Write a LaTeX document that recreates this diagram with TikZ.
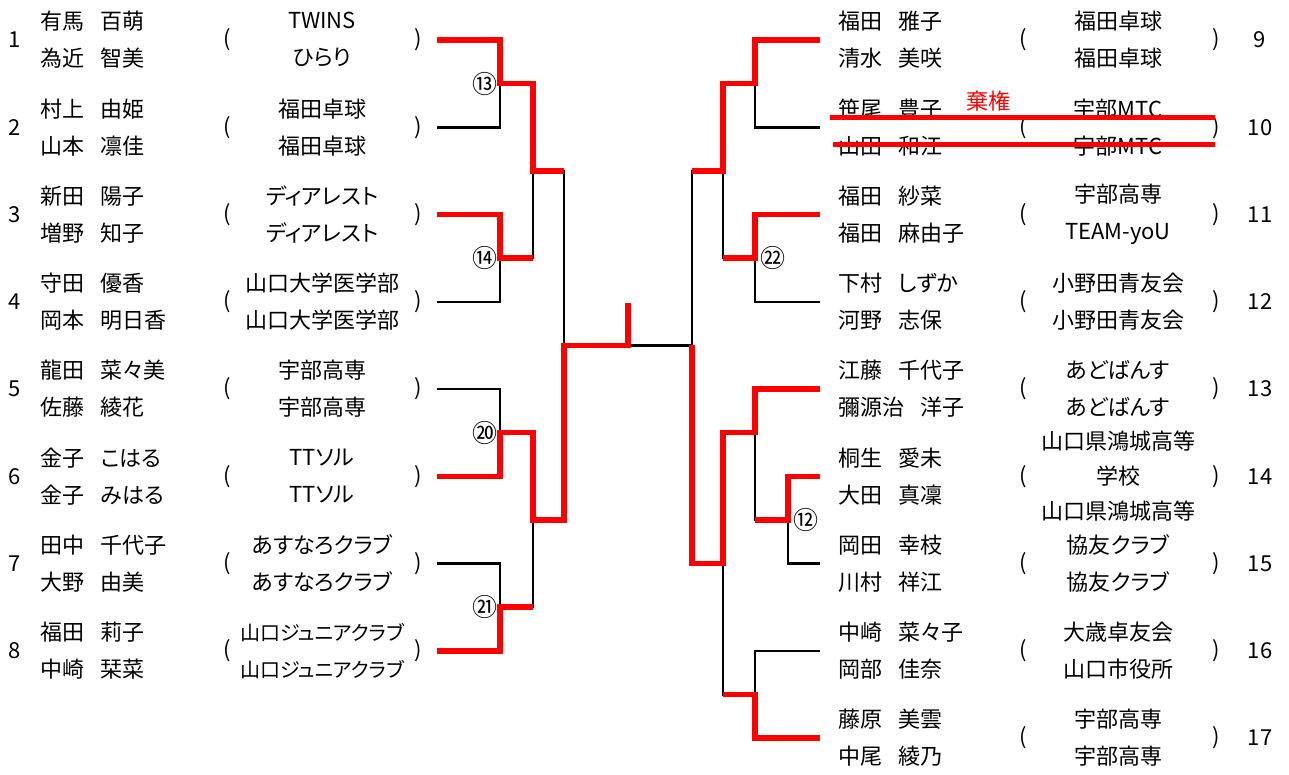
\documentclass[tikz,border=0pt]{standalone}
\usepackage{fontspec}
\setmainfont{Noto Sans CJK JP}[RawFeature=+palt]
\newcommand{\gap}{\hspace{0.75em}}
\begin{document}
\begin{tikzpicture}[x=1pt,y=-1pt,
    every node/.style={font=\fontsize{22}{37}\selectfont, inner sep=0pt},
    names/.style={anchor=west, align=left},
    team/.style={align=center},
    seed/.style={font=\fontsize{25}{25}\selectfont},
    lose/.style={line width=2.5pt},
    win/.style={red, line width=5.5pt, line join=miter}]
    \useasboundingbox (0,0) rectangle (1289,774);

    % Left numbers, brackets and stub ends
    \foreach \i in {1,...,8} {
        \node (n\i) at (15,{40+87.25*(\i-1)}) {\i};
        \node (o\i) at (227,{40+87.25*(\i-1)}) {(};
        \node (c\i) at (418,{40+87.25*(\i-1)}) {)};
        \coordinate (s\i) at (437,{40+87.25*(\i-1)});
    }
    % Right numbers, brackets and stub ends
    \foreach \i in {9,...,17} {
        \node (n\i) at (1260,{40+87.25*(\i-9)}) {\i};
        \node (o\i) at (1023,{40+87.25*(\i-9)}) {(};
        \node (c\i) at (1216,{40+87.25*(\i-9)}) {)};
        \coordinate (s\i) at (820,{40+87.25*(\i-9)});
    }

    % Left pairs
    \node[names] (p1) at (40,40) {有馬\gap 百萌\\為近\gap 智美};
    \node[team] (t1) at (322,40) {TWINS\\ひらり};
    \node[names] (p2) at (40,127.25) {村上\gap 由姫\\山本\gap 凛佳};
    \node[team] (t2) at (322,127.25) {福田卓球\\福田卓球};
    \node[names] (p3) at (40,214.5) {新田\gap 陽子\\増野\gap 知子};
    \node[team] (t3) at (322,214.5) {ディアレスト\\ディアレスト};
    \node[names] (p4) at (40,301.75) {守田\gap 優香\\岡本\gap 明日香};
    \node[team] (t4) at (322,301.75) {山口大学医学部\\山口大学医学部};
    \node[names] (p5) at (40,389) {龍田\gap 菜々美\\佐藤\gap 綾花};
    \node[team] (t5) at (322,389) {宇部高専\\宇部高専};
    \node[names] (p6) at (40,476.25) {金子\gap こはる\\金子\gap みはる};
    \node[team] (t6) at (322,476.25) {TTソル\\TTソル};
    \node[names] (p7) at (40,563.5) {田中\gap 千代子\\大野\gap 由美};
    \node[team] (t7) at (322,563.5) {あすなろクラブ\\あすなろクラブ};
    \node[names] (p8) at (40,650.75) {福田\gap 莉子\\中崎\gap 栞菜};
    \node[team, font=\fontsize{20}{37}\selectfont] (t8) at (322,650.75) {山口ジュニアクラブ\\山口ジュニアクラブ};

    % Right pairs
    \node[names] (p9) at (838,40) {福田\gap 雅子\\清水\gap 美咲};
    \node[team] (t9) at (1118,40) {福田卓球\\福田卓球};
    \node[names] (p10) at (838,127.25) {笹尾\gap 豊子\\山田\gap 和江};
    \node[team] (t10) at (1118,127.25) {宇部MTC\\宇部MTC};
    \node[names] (p11) at (838,214.5) {福田\gap 紗菜\\福田\gap 麻由子};
    \node[team] (t11) at (1118,214.5) {宇部高専\\TEAM-yoU};
    \node[names] (p12) at (838,301.75) {下村\gap しずか\\河野\gap 志保};
    \node[team] (t12) at (1118,301.75) {小野田青友会\\小野田青友会};
    \node[names] (p13) at (838,389) {江藤\gap 千代子\\彌源治\gap 洋子};
    \node[team] (t13) at (1118,389) {あどばんす\\あどばんす};
    \node[names] (p14) at (838,476.25) {桐生\gap 愛未\\大田\gap 真凜};
    \node[team] (t14) at (1118,476.25) {山口県鴻城高等\\[-2pt]学校\\[-2pt]山口県鴻城高等};
    \node[names] (p15) at (838,563.5) {岡田\gap 幸枝\\川村\gap 祥江};
    \node[team] (t15) at (1118,563.5) {協友クラブ\\協友クラブ};
    \node[names] (p16) at (838,650.75) {中崎\gap 菜々子\\岡部\gap 佳奈};
    \node[team] (t16) at (1118,650.75) {大歳卓友会\\山口市役所};
    \node[names] (p17) at (838,738) {藤原\gap 美雲\\中尾\gap 綾乃};
    \node[team] (t17) at (1118,738) {宇部高専\\宇部高専};

    % Junctions
    \coordinate (m13) at (500,83.6);
    \coordinate (m14) at (500,258.1);
    \coordinate (m20) at (500,432.6);
    \coordinate (m21) at (500,607.1);
    \coordinate (j1) at (533,170.9);
    \coordinate (j2) at (533,519.9);
    \coordinate (k) at (564,345.4);
    \coordinate (f) at (628,345.4);
    \coordinate (top) at (628,303);
    \coordinate (r1) at (755,83.6);
    \coordinate (r2) at (755,258.1);
    \coordinate (r4) at (755,432.6);
    \coordinate (r5) at (788,519.9);
    \coordinate (r6) at (755,694.4);
    \coordinate (q1) at (723,170.9);
    \coordinate (q2) at (723,563.5);
    \coordinate (p) at (692,345.4);

    % Match numbers
    \node[seed] (b13) at (485,83.6) {⑬};
    \node[seed] (b14) at (485,258.1) {⑭};
    \node[seed] (b20) at (485,432.6) {⑳};
    \node[seed] (b21) at (485,607.1) {㉑};
    \node[seed] (b22) at (773,258.1) {㉒};
    \node[seed] (b12) at (806,519.9) {⑫};

    % Whole bracket
    \draw[lose] (s1) -| (m13);
    \draw[lose] (s2) -| (m13);
    \draw[lose] (s3) -| (m14);
    \draw[lose] (s4) -| (m14);
    \draw[lose] (s5) -| (m20);
    \draw[lose] (s6) -| (m20);
    \draw[lose] (s7) -| (m21);
    \draw[lose] (s8) -| (m21);
    \draw[lose] (m13) -| (j1);
    \draw[lose] (m14) -| (j1);
    \draw[lose] (m20) -| (j2);
    \draw[lose] (m21) -| (j2);
    \draw[lose] (j1) -| (k);
    \draw[lose] (j2) -| (k);
    \draw[lose] (k) -- (f) -- (p);
    \draw[lose] (s9) -| (r1);
    \draw[lose] (s10) -| (r1);
    \draw[lose] (s11) -| (r2);
    \draw[lose] (s12) -| (r2);
    \draw[lose] (s13) -| (r4);
    \draw[lose] (s14) -| (r5);
    \draw[lose] (s15) -| (r5);
    \draw[lose] (r5) -| (r4);
    \draw[lose] (s16) -| (r6);
    \draw[lose] (s17) -| (r6);
    \draw[lose] (r1) -| (q1);
    \draw[lose] (r2) -| (q1);
    \draw[lose] (r4) -| (q2);
    \draw[lose] (r6) -| (q2);
    \draw[lose] (q1) -| (p);
    \draw[lose] (q2) -| (p);

    % Winners
    \draw[win] (s1) -| (m13) -| (j1) -- (j1 -| k);
    \draw[win] (s3) -| (m14) -- (m14 -| j1);
    \draw[win] (s6) -| (m20) -| (j2) -| (k) -- (f) -- (top);
    \draw[win] (s8) -| (m21) -- (m21 -| j2);
    \draw[win] (s9) -| (r1) -| (q1) -- (q1 -| p);
    \draw[win] (s11) -| (r2) -- (r2 -| q1);
    \draw[win] (s13) -| (r4) -| (q2) -| (p);
    \draw[win] (s14) -| (r5) -- (r5 -| r4);
    \draw[win] (s17) -| (r6) -- (r6 -| q2);

    % Withdrawn pair
    \coordinate (x1) at (830,117);
    \coordinate (x2) at (1215,117);
    \coordinate (x3) at (833,144);
    \coordinate (x4) at (1215,144);
    \draw[red, line width=5pt] (x1) -- (x2);
    \draw[red, line width=5pt] (x3) -- (x4);
    \node[red] (kiken) at (988,101) {棄権};
\end{tikzpicture}
\end{document}
